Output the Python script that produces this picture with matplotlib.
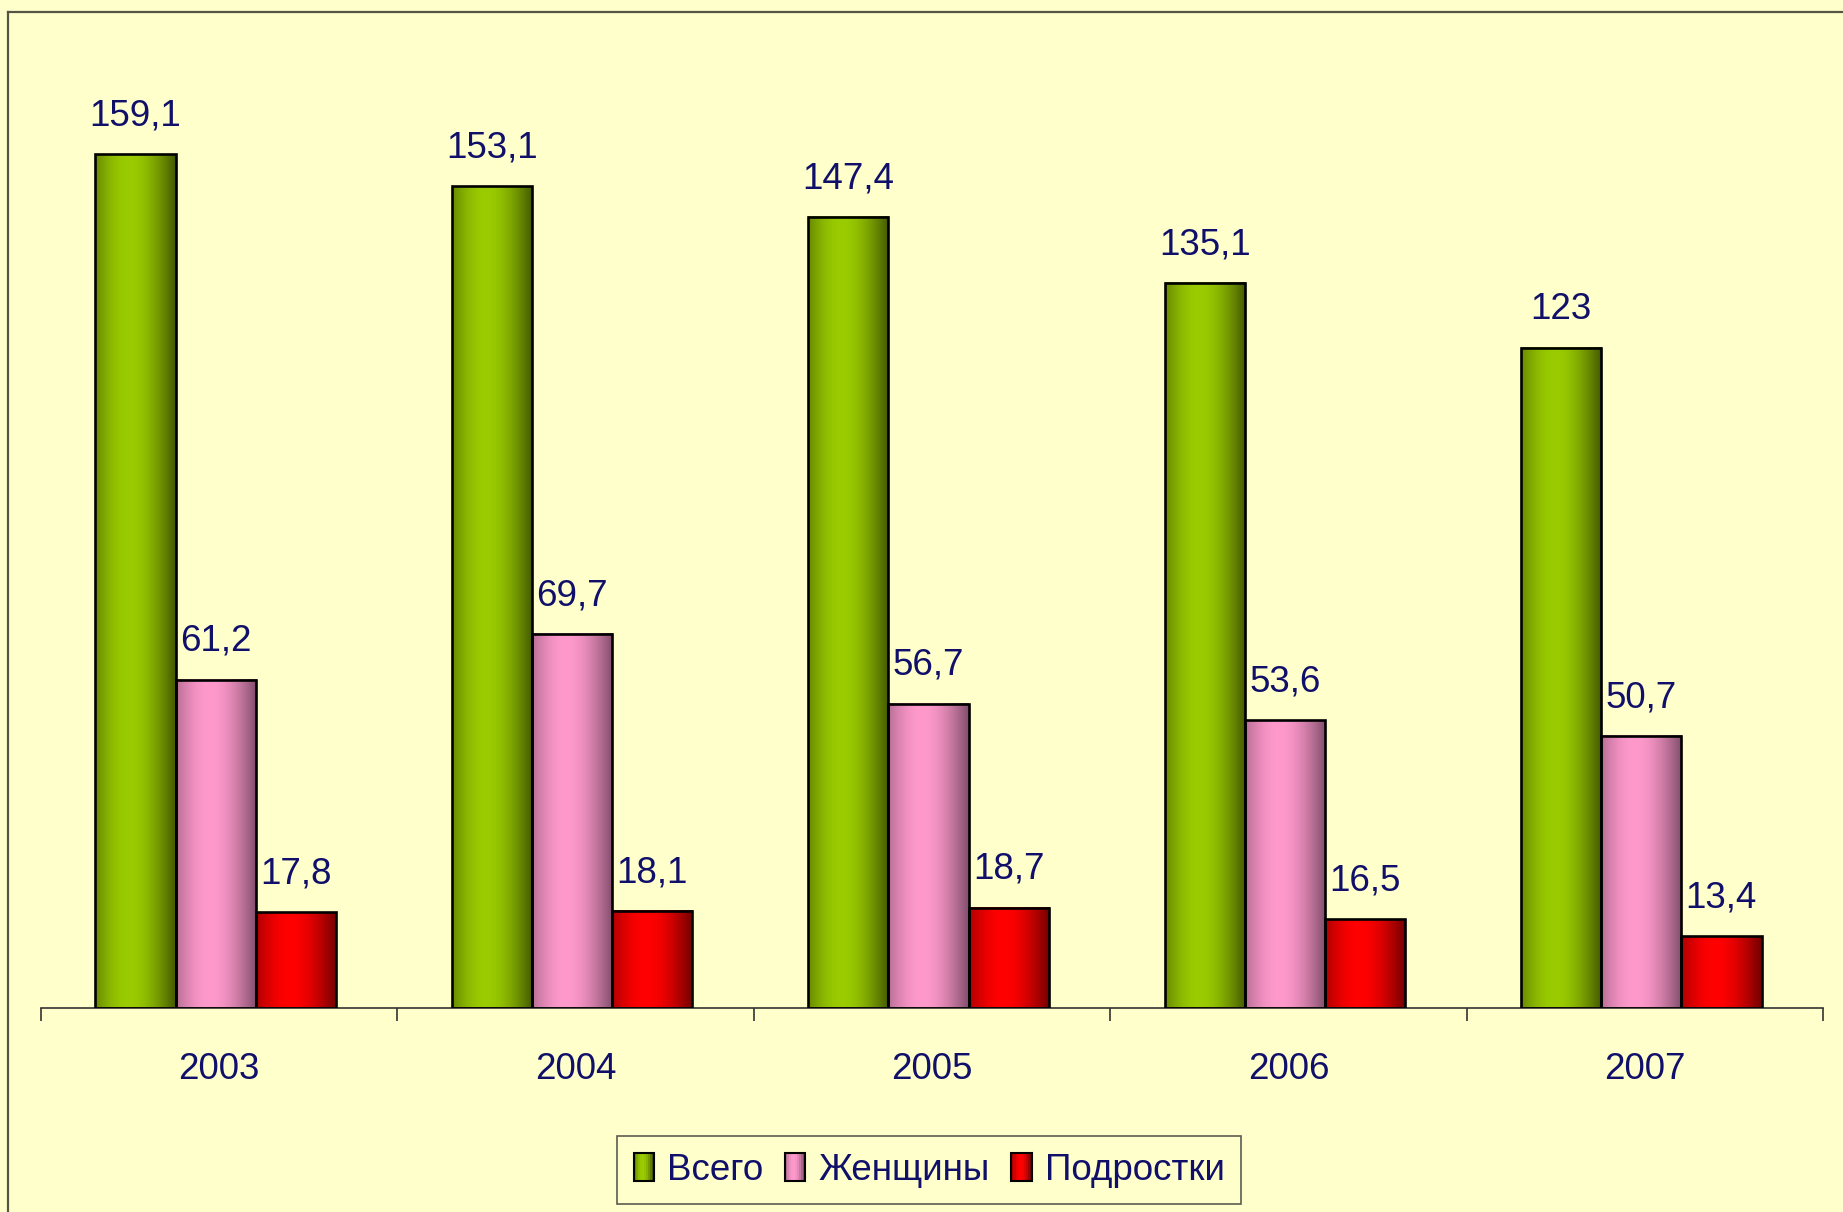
import numpy as np
import matplotlib
matplotlib.use('Agg')
import matplotlib.pyplot as plt
from matplotlib.patches import Rectangle
from matplotlib.lines import Line2D
from matplotlib.legend_handler import HandlerBase
from matplotlib.colors import to_rgb

plt.rcParams['font.family'] = ['Liberation Sans', 'DejaVu Sans']

years = ['2003', '2004', '2005', '2006', '2007']
series = ['Всего', 'Женщины', 'Подростки']
vsego = [159.1, 153.1, 147.4, 135.1, 123]
zhenshchiny = [61.2, 69.7, 56.7, 53.6, 50.7]
podrostki = [17.8, 18.1, 18.7, 16.5, 13.4]

# (dark edge, bright centre) для "цилиндрической" заливки
shades = [('#3f5200', '#9acc00'), ('#7a4a66', '#ff99cc'), ('#6a0000', '#ff0000')]
bg = '#ffffcc'
txt = '#10106a'
fs = 26.5

W, H = 1843, 1212
fig = plt.figure(figsize=(W / 100, H / 100), dpi=100, facecolor=bg)
ax = fig.add_axes([41 / W, 204 / H, 1782 / W, 966 / H])
ax.set_facecolor(bg)


def grad_colors(dark, light, n=128):
    t = np.linspace(0, 1, n)
    w = np.clip(np.cos(np.pi / 2 * (t - 0.42) / 0.6), 0, 1)
    d, l = np.array(to_rgb(dark)), np.array(to_rgb(light))
    return d[None, :] * (1 - w[:, None]) + l[None, :] * w[:, None]


x = np.arange(len(years))
bw = 0.225
for i, vals in enumerate([vsego, zhenshchiny, podrostki]):
    pos = x + (i - 1) * bw - 0.01
    bars = ax.bar(pos, vals, bw, facecolor='none', edgecolor='black', lw=1.9, zorder=3)
    img = grad_colors(*shades[i])[None, :, :]
    for b, v in zip(bars, vals):
        x0 = b.get_x()
        ax.imshow(img, extent=[x0, x0 + bw, 0, v], aspect='auto',
                  interpolation='bilinear', zorder=2)
        ax.annotate(f'{v:g}'.replace('.', ','), (x0 + bw / 2, v),
                    xytext=(0, 15), textcoords='offset points',
                    ha='center', va='bottom', fontsize=fs, color=txt)

ax.set_xlim(-0.5, len(years) - 0.5)
ax.set_ylim(0, 180)
for s in ['top', 'left', 'right']:
    ax.spines[s].set_visible(False)
ax.spines['bottom'].set_color('#333333')
ax.spines['bottom'].set_linewidth(1.2)
ax.set_yticks([])
ax.set_xticks(x)
ax.set_xticklabels(years, fontsize=fs, color=txt)
ax.tick_params(axis='x', which='major', length=0, pad=32)
ax.set_xticks(np.arange(len(years) + 1) - 0.5, minor=True)
ax.tick_params(axis='x', which='minor', length=9.5, width=1.2, color='#333333', direction='out')


class GradHandler(HandlerBase):
    def create_artists(self, legend, orig_handle, xdescent, ydescent,
                       width, height, fontsize, trans):
        cols = grad_colors(*orig_handle.shade, n=10)
        arts = []
        for k, c in enumerate(cols):
            arts.append(Rectangle((-xdescent + k * width / len(cols), -ydescent),
                                  width / len(cols), height, facecolor=c,
                                  edgecolor='none', transform=trans))
        arts.append(Rectangle((-xdescent, -ydescent), width, height, facecolor='none',
                              edgecolor='black', lw=1.5, transform=trans))
        return arts


handles = []
for s in shades:
    h = Rectangle((0, 0), 1, 1)
    h.shade = s
    handles.append(h)

leg = fig.legend(handles, series, loc='center', bbox_to_anchor=(929 / W, 1 - 1170 / H),
                 ncol=3, fontsize=fs, frameon=True, fancybox=False,
                 handlelength=0.55, handleheight=0.8, handletextpad=0.35,
                 columnspacing=0.6, borderpad=0.45,
                 handler_map={Rectangle: GradHandler()})
leg.get_frame().set_facecolor(bg)
leg.get_frame().set_edgecolor('#333333')
leg.get_frame().set_linewidth(1.2)
for t in leg.get_texts():
    t.set_color(txt)

# рамка области диаграммы (видны только верх и левый край)
fig.add_artist(Line2D([8 / W, 1], [1 - 12 / H, 1 - 12 / H], transform=fig.transFigure,
                      color='#555544', lw=1.6))
fig.add_artist(Line2D([8 / W, 8 / W], [0, 1 - 12 / H], transform=fig.transFigure,
                      color='#555544', lw=1.6))

fig.savefig('out.png', dpi=100, facecolor=bg)
